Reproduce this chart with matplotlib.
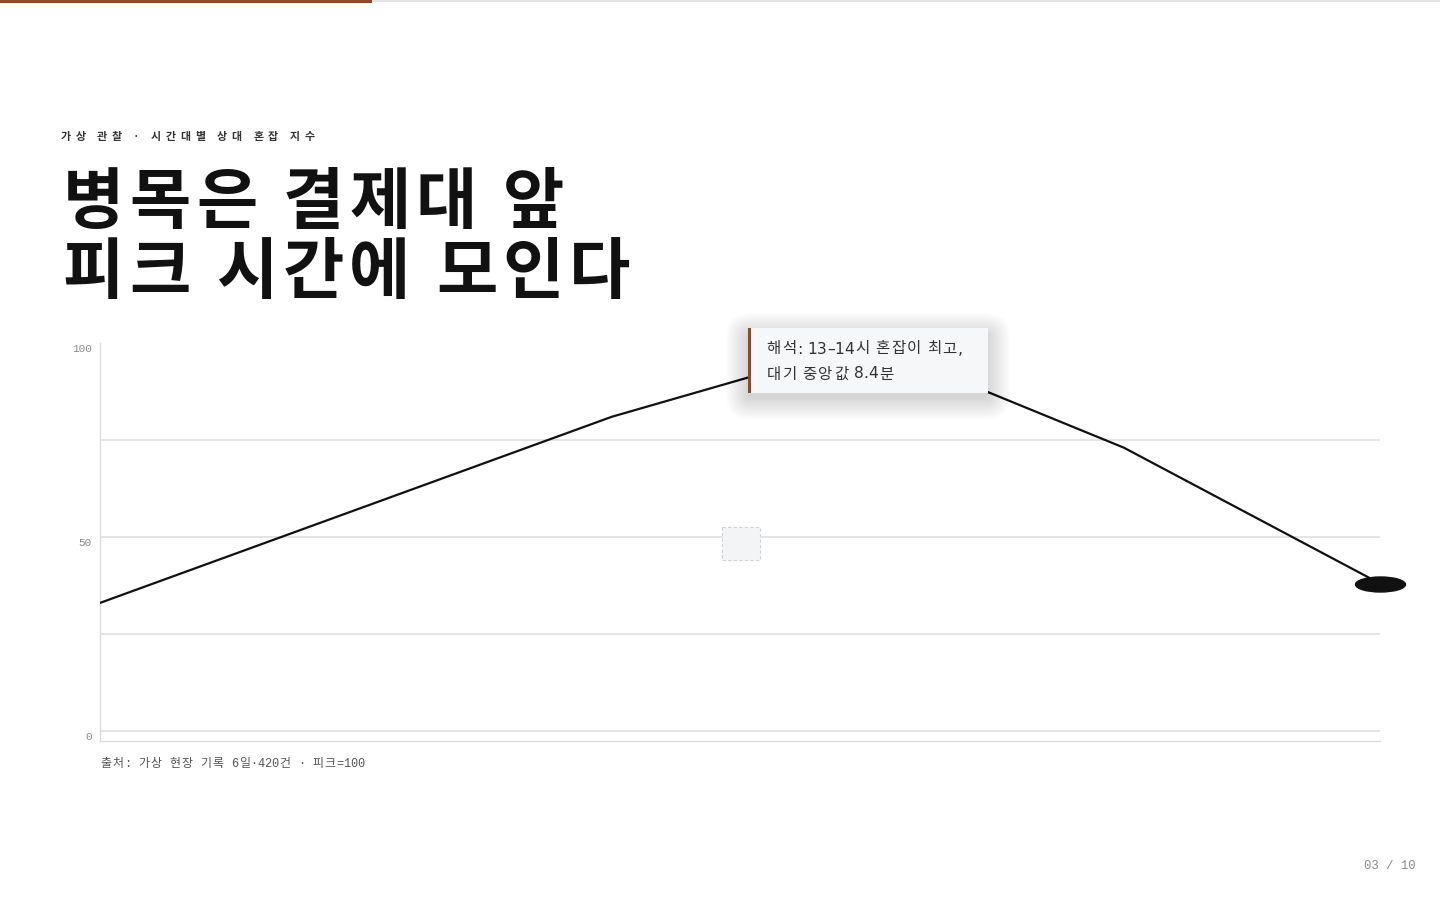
import matplotlib
matplotlib.use("Agg")
import matplotlib.pyplot as plt
import numpy as np
from matplotlib.path import Path
from matplotlib.patches import Rectangle, FancyBboxPatch
from matplotlib.transforms import ScaledTranslation
from matplotlib.font_manager import FontProperties, findfont, get_font

# ---- data ----
hours = ["10–11", "11–12", "12–13", "13–14", "14–15", "15–16"]
congestion = [33, 57, 81, 100, 73, 38]
y_tick_values = [0, 25, 50, 75, 100]
y_tick_labels = ["0", "", "50", "", "100"]

kicker = "가상 관찰 · 시간대별 상대 혼잡 지수"
title_lines = ["병목은 결제대 앞", "피크 시간에 모인다"]
note_lines = ["해석: 13–14시 혼잡이 최고,", "대기 중앙값 8.4분"]
source = "출처: 가상 현장 기록 6일·420건 · 피크=100"
page = "03 / 10"

KR = "Noto Sans CJK KR"
MONO = ["Liberation Mono", KR]
SANS = ["DejaVu Sans", KR]
ACCENT = "#8e4a26"
DPI = 100

W, H = 1440, 900
fig = plt.figure(figsize=(14.4, 9), dpi=DPI, facecolor="white")

# ---- chart axes ----
x0, x1 = 100, 1380
ybot, ytop = 741, 343
ax = fig.add_axes([x0 / W, 1 - ybot / H, (x1 - x0) / W, (ybot - ytop) / H])
ax.set_facecolor("none")
xs = np.arange(len(hours))
ax.set_xlim(0, len(hours) - 1)
ax.set_ylim(-2.6, 100)
ax.set_xticks(xs)
ax.set_xticklabels(hours)
ax.tick_params(axis="x", length=0, labelbottom=False)
ax.set_yticks(y_tick_values)
ax.set_yticklabels(y_tick_labels, family=MONO, fontsize=8.0, color="#8a8a8a")
ax.tick_params(axis="y", length=0, pad=6)
ax.grid(True, axis="y", color="#e2e2e2", lw=1.3)
ax.grid(False, axis="x")
ax.yaxis.get_gridlines()[-1].set_visible(False)
for s in ["top", "right"]:
    ax.spines[s].set_visible(False)
for s in ["left", "bottom"]:
    ax.spines[s].set_color("#dcdcdc")
    ax.spines[s].set_linewidth(1.0)
off = ScaledTranslation(0, -5 / 100, fig.dpi_scale_trans)
for lab in ax.get_yticklabels():
    lab.set_transform(lab.get_transform() + off)

ax.plot(xs, congestion, color="#111111", lw=1.6, solid_joinstyle="miter", zorder=3)
circ = Path.unit_circle()
ell = Path(circ.vertices * np.array([1.0, 0.3]), circ.codes)
ax.plot(xs[-1:], congestion[-1:], linestyle="none", marker=ell, ms=36,
        color="#111111", clip_on=False, zorder=4)

# ---- overlay in pixel coordinates ----
ov = fig.add_axes([0, 0, 1, 1], zorder=5)
ov.set_xlim(0, W)
ov.set_ylim(H, 0)
ov.axis("off")
ov.patch.set_alpha(0)


def is_wide(ch):
    o = ord(ch)
    return (0xAC00 <= o <= 0xD7A3) or (0x1100 <= o <= 0x11FF) or (0x3130 <= o <= 0x318F)


def draw_run(x, y, text, families, size_pt, weight="normal", color="#333", tracking=0.0,
             space_em=None):
    """Draw text glyph by glyph; Hangul gets a full 1em advance."""
    px = size_pt * DPI / 72.0
    props = [FontProperties(family=f, weight=weight, size=size_pt) for f in families]
    fonts = [get_font(findfont(p)) for p in props]
    wide_prop = FontProperties(family=KR, weight=weight, size=size_pt)
    cx = x
    n = len(text)
    for i, ch in enumerate(text):
        if is_wide(ch):
            ov.text(cx + px / 2, y, ch, fontproperties=wide_prop, color=color,
                    ha="center", va="baseline")
            adv = px
        else:
            prop, adv = props[-1], px * 0.5
            for p, f in zip(props, fonts):
                if f.get_char_index(ord(ch)):
                    f.set_size(size_pt, DPI)
                    g = f.load_char(ord(ch))
                    prop, adv = p, g.linearHoriAdvance / 65536.0
                    break
            if ch == " ":
                if space_em is not None:
                    adv = space_em * px
            else:
                ov.text(cx, y, ch, fontproperties=prop, color=color, ha="left", va="baseline")
        cx += adv + (tracking if i < n - 1 else 0)
    return cx


# progress bar
ov.add_patch(Rectangle((372, 0), W - 372, 2, facecolor="#e3e3e3", lw=0))
ov.add_patch(Rectangle((0, 0), 372, 2.8, facecolor=ACCENT, lw=0))

# kicker
draw_run(60, 140, kicker, [KR], 7.9, weight="bold", color="#333333", tracking=4.0)

# title
for i, line in enumerate(title_lines):
    draw_run(60, 223 + i * 70, line, [KR], 48, weight="bold", color="#111111", space_em=0.3)

# placeholder square
ov.add_patch(Rectangle((722, 527), 38, 33, facecolor="#f3f4f6", edgecolor="#cfd2d6",
                       lw=0.8, ls=(0, (3, 2))))

# tooltip
bx, by, bw, bh = 748, 328, 240, 65
for k in range(14):
    g = 1 + k * 1.7
    ov.add_patch(FancyBboxPatch((bx - g + 1, by - g + 8), bw + 2 * g - 2, bh + 2 * g - 4,
                                boxstyle="round,pad=0,rounding_size=%f" % (g + 2),
                                facecolor="#000000", alpha=0.013, lw=0))
ov.add_patch(Rectangle((bx, by), bw, bh, facecolor="#f6f7f9", lw=0))
ov.add_patch(Rectangle((bx, by), 2.6, bh, facecolor=ACCENT, lw=0))
for i, line in enumerate(note_lines):
    draw_run(766, 353.5 + i * 25, line, SANS, 11.2, color="#333333")

# source + page number
draw_run(100, 767, source, MONO, 8.6, color="#555555")
ov.text(1416, 866, page, fontsize=8.8, family=MONO, color="#8a8a8a", va="center", ha="right")

fig.savefig("out.png", dpi=DPI, facecolor="white")
